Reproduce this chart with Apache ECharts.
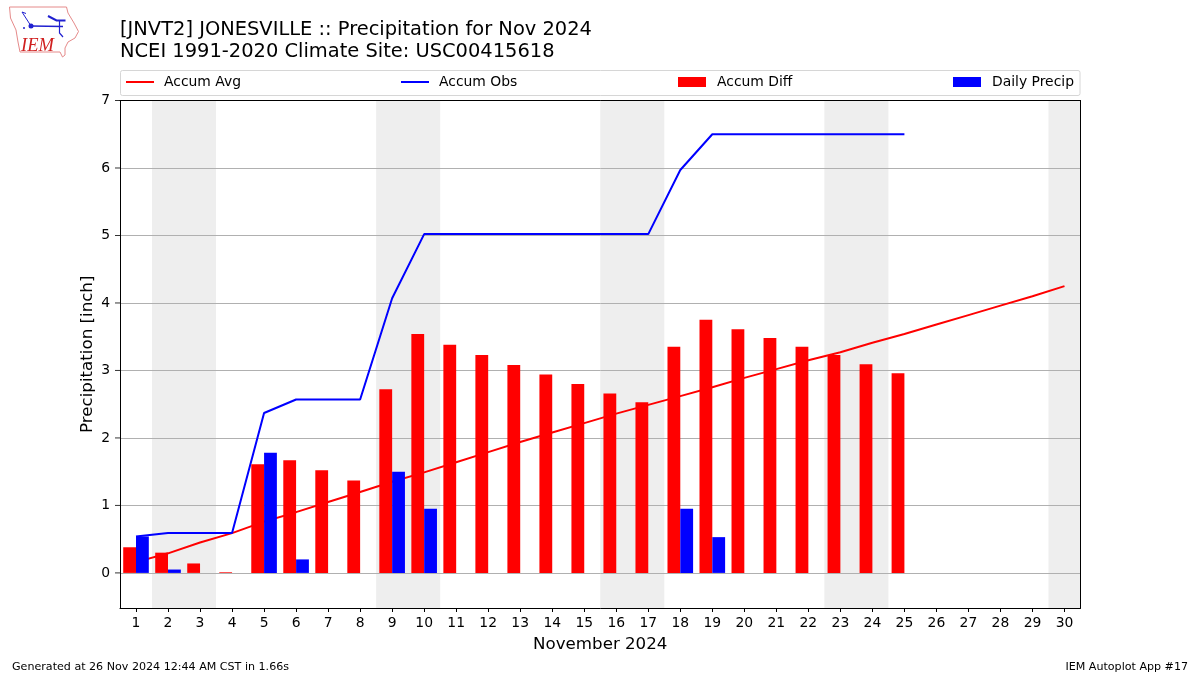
<!DOCTYPE html>
<html><head><meta charset="utf-8">
<style>html,body{margin:0;padding:0;background:#fff}#c{width:1200px;height:675px}</style>
<script src="https://cdn.jsdelivr.net/npm/echarts@6/dist/echarts.min.js"></script>
</head><body><div id="c"></div>
<script>
const days = Array.from({length:30},(_, i)=>String(i+1));
const yTicks = [0,1,2,3,4,5,6,7];
const accumAvg = [0.16,0.29,0.45,0.59,0.76,0.90,1.05,1.20,1.35,1.49,1.64,1.79,1.94,2.08,2.22,2.36,2.49,2.62,2.75,2.89,3.02,3.15,3.27,3.41,3.54,3.68,3.82,3.96,4.10,4.25];
const accumObs = [0.54,0.59,0.59,0.59,2.37,2.57,2.57,2.57,4.07,5.02,5.02,5.02,5.02,5.02,5.02,5.02,5.02,5.97,6.50,6.50,6.50,6.50,6.50,6.50,6.50];
const accumDiff = [0.38,0.30,0.14,0.01,1.61,1.67,1.52,1.37,2.72,3.54,3.38,3.23,3.08,2.94,2.80,2.66,2.53,3.35,3.75,3.61,3.48,3.35,3.23,3.09,2.96];
const dailyPrecip = [0.54,0.05,0,0,1.78,0.20,0,0,1.50,0.95,0,0,0,0,0,0,0,0.95,0.53,0,0,0,0,0,0];
const weekends = [[1.5,3.5],[8.5,10.5],[15.5,17.5],[22.5,24.5],[29.5,30.5]];
const titleLines = ["[JNVT2] JONESVILLE :: Precipitation for Nov 2024","NCEI 1991-2020 Climate Site: USC00415618"];
const footLeft = "Generated at 26 Nov 2024 12:44 AM CST in 1.66s";
const footRight = "IEM Autoplot App #17";
const yMin = -0.52, yMax = 7, xMin = 0.5, xMax = 30.5;

const F = "DejaVu Sans";
const chart = echarts.init(document.getElementById('c'),null,{renderer:'canvas'});
const leg = (name,left,h,p)=>({show:true,data:[{name,icon:'rect'}],left,top:75,padding:0,itemWidth:28,itemHeight:h,itemGap:10,
  textStyle:{fontFamily:F,fontSize:13.9,color:'#000',padding:[0,0,0,p]},selectedMode:false});
const axisLineBlack = {show:true,onZero:false,lineStyle:{color:'#000',width:1}};
chart.setOption({
  animation:false,
  backgroundColor:'#fff',
  grid:{left:120,right:119.5,top:100.5,bottom:67,containLabel:false},
  legend:[leg('Accum Avg',126,2,5),leg('Accum Obs',401,2,5),leg('Accum Diff',678,10,6),leg('Daily Precip',953,10,6)],
  xAxis:[{type:'category',data:days,boundaryGap:true,
      name:'November 2024',nameLocation:'middle',nameGap:28,
      nameTextStyle:{fontFamily:F,fontSize:16.67,color:'#000'},
      axisLine:axisLineBlack,
      axisTick:{show:true,alignWithLabel:true,length:4,lineStyle:{color:'#000'}},
      axisLabel:{interval:0,fontFamily:F,fontSize:13.9,color:'#000',margin:8},
      splitLine:{show:false}},
    {type:'value',min:xMin,max:xMax,position:'top',axisLine:axisLineBlack,axisTick:{show:false},axisLabel:{show:false},splitLine:{show:false}}],
  yAxis:[{type:'value',min:yMin,max:yMax,
      name:'Precipitation [inch]',nameLocation:'middle',nameGap:24,nameMoveOverlap:false,
      nameTextStyle:{fontFamily:F,fontSize:16.67,color:'#000'},
      axisLine:axisLineBlack,
      axisTick:{show:false,customValues:yTicks},
      axisLabel:{fontFamily:F,fontSize:13.9,color:'#000',margin:10,padding:[2,0,0,0],customValues:yTicks},
      splitLine:{show:true,lineStyle:{color:'#b0b0b0',width:1}}},
    {type:'value',min:yMin,max:yMax,position:'right',axisLine:axisLineBlack,axisTick:{show:false},axisLabel:{show:false},splitLine:{show:false}}],
  series:[
    {name:'Shade',type:'line',xAxisIndex:1,data:[],silent:true,z:-1,
      markArea:{silent:true,z:-1,itemStyle:{color:'#eeeeee',opacity:1},
        data:weekends.map(w=>[{xAxis:w[0],yAxis:yMin},{xAxis:w[1],yAxis:yMax}])}},
    {name:'Y Ticks',type:'scatter',xAxisIndex:1,clip:false,silent:true,z:5,symbol:'rect',symbolSize:[5,1],symbolOffset:[-2.5,0],
      itemStyle:{color:'#000'},data:yTicks.map(v=>[xMin,v])},
    {name:'Accum Avg',type:'line',data:accumAvg,symbol:'none',z:2,lineStyle:{color:'#ff0000',width:2},itemStyle:{color:'#ff0000'}},
    {name:'Accum Obs',type:'line',data:accumObs,symbol:'none',z:2,lineStyle:{color:'#0000ff',width:2},itemStyle:{color:'#0000ff'}},
    {name:'Accum Diff',type:'bar',data:accumDiff,barWidth:'40%',barGap:0,z:3,itemStyle:{color:'#ff0000'}},
    {name:'Daily Precip',type:'bar',data:dailyPrecip,barWidth:'40%',barGap:0,z:3,itemStyle:{color:'#0000ff'}}
  ],
  graphic:[
    {type:'rect',z:-5,shape:{x:120.5,y:70.5,width:959.5,height:25,r:2},style:{fill:'#fff',stroke:'#d6d6d6',lineWidth:1}},
    {type:'text',left:120,top:20,style:{text:titleLines[0],fontFamily:F,fontSize:19.45,fill:'#000'}},
    {type:'text',left:120,top:42,style:{text:titleLines[1],fontFamily:F,fontSize:19.45,fill:'#000'}},
    {type:'text',left:12,top:662,style:{text:footLeft,fontFamily:F,fontSize:11.1,fill:'#000'}},
    {type:'text',right:12,top:662,style:{text:footRight,fontFamily:F,fontSize:11.1,fill:'#000'}},
    {type:'polygon',shape:{points:[[9.5,7],[66.5,7],[68,13],[74,23],[78.5,31.5],[75,38],[68,42],[65,48],[65,55],[62.5,57],[60,52],[20,52],[18,42],[16,30],[10.5,18]]},style:{fill:'none',stroke:'#e58a8a',lineWidth:1}},
    {type:'text',left:21,top:37,style:{text:'IEM',fontFamily:'Liberation Serif',fontStyle:'italic',fontSize:18.5,fill:'#d02020'}},
    {type:'polyline',shape:{points:[[31,26],[63,26.5]]},style:{fill:'none',stroke:'#2020d0',lineWidth:1.5}},
    {type:'polyline',shape:{points:[[59.5,21],[59.5,33],[63,37]]},style:{fill:'none',stroke:'#2020d0',lineWidth:1.2}},
    {type:'polyline',shape:{points:[[31,26],[22,12],[26,13.5]]},style:{fill:'none',stroke:'#2020d0',lineWidth:1}},
    {type:'polyline',shape:{points:[[48,16],[56.5,20.5],[65.5,20.5]]},style:{fill:'none',stroke:'#2020d0',lineWidth:2}},
    {type:'circle',shape:{cx:31,cy:26,r:2.5},style:{fill:'#2020d0'}},
    {type:'circle',shape:{cx:24,cy:28,r:1},style:{fill:'#2020d0'}}
  ]
});
</script></body></html>
